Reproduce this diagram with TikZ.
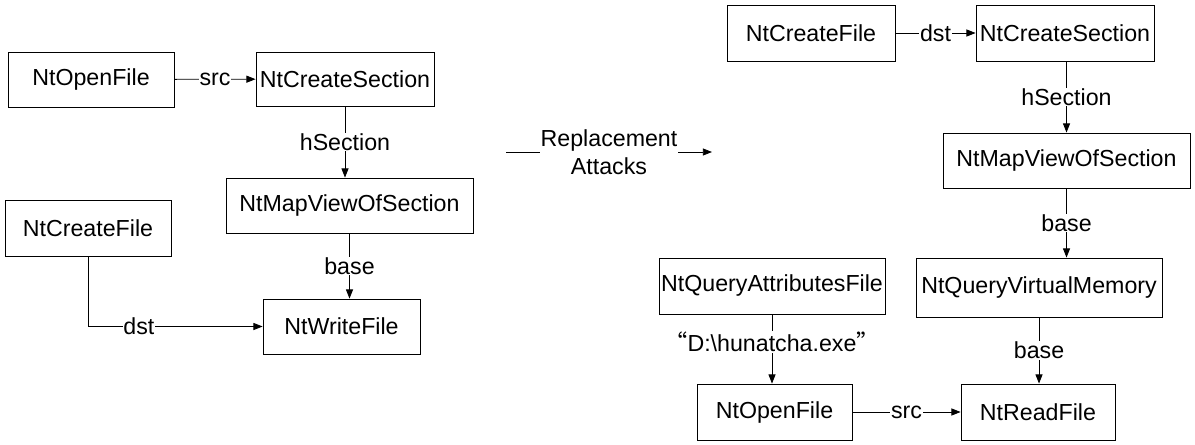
\documentclass[tikz,border=0pt]{standalone}
\usepackage{fontspec}
\setmainfont{Liberation Sans}
\newfontfamily\cjk{Noto Sans CJK SC}
\usetikzlibrary{arrows.meta}

\begin{document}
\begin{tikzpicture}[x=0.025cm,y=-0.025cm,
  every node/.style={font=\fontsize{16.5}{19.8}\selectfont},
  fn/.style={draw,line width=0.6pt,minimum height=1.4cm,inner sep=0pt},
  lbl/.style={fill=white,inner sep=0.6pt},
  flow/.style={line width=0.6pt,-{Triangle[length=6.5pt,width=5pt]}}]
\useasboundingbox (0,0) rectangle (1195,445);
% left: original call sequence
\node [fn,minimum width=4.15cm,minimum height=1.375cm] (lOpen) at (91,79.5) {NtOpenFile};
\node [fn,minimum width=4.45cm,minimum height=1.35cm] (lSection) at (345,79) {NtCreateSection};
\node [fn,minimum width=6.175cm,minimum height=1.375cm] (lMap) at (349.5,205.5) {NtMapViewOfSection};
\node [fn,minimum width=4.15cm] (lCreate) at (88,228) {NtCreateFile};
\node [fn,minimum width=3.925cm,minimum height=1.375cm] (lWrite) at (341.5,326.5) {NtWriteFile};
\draw [flow] (lOpen) -- node [lbl] {src} (lSection);
\draw [flow] (lSection) -- node [lbl] {hSection} (lSection |- lMap.north);
\draw [flow] (lMap) -- node [lbl] {base} (lMap |- lWrite.north);
\draw [flow] (lCreate) |- node [lbl,pos=0.646] {dst} (lWrite);
% middle
\coordinate (rpA) at (506,152);
\coordinate (rpB) at (712,152);
\draw [flow] (rpA) -- node [lbl,align=center] {Replacement\\Attacks} (rpB);
% right: after replacement
\node [fn,minimum width=4.2cm] (rCreate) at (811,33) {NtCreateFile};
\node [fn,minimum width=4.45cm] (rSection) at (1065,33) {NtCreateSection};
\node [fn,minimum width=6.175cm,minimum height=1.375cm] (rMap) at (1066.5,160.5) {NtMapViewOfSection};
\node [fn,minimum width=6.15cm,minimum height=1.475cm] (rQuery) at (1039,287.5) {NtQueryVirtualMemory};
\node [fn,minimum width=5.65cm] (rAttr) at (772,286) {NtQueryAttributesFile};
\node [fn,minimum width=3.875cm] (rOpen) at (774.5,412) {NtOpenFile};
\node [fn,minimum width=3.85cm] (rRead) at (1038,412) {NtReadFile};
\draw [flow] (rCreate) -- node [lbl] {dst} (rSection);
\draw [flow] (rMap |- rSection.south) -- node [lbl] {hSection} (rMap);
\draw [flow] (rMap) -- node [lbl] {base} (rMap |- rQuery.north);
\draw [flow] (rQuery) -- node [lbl] {base} (rQuery |- rRead.north);
\draw [flow] (rAttr) -- node [lbl,pos=0.4] {{\cjk “}D:\textbackslash hunatcha.exe{\cjk ”}} (rAttr |- rOpen.north);
\draw [flow] (rOpen) -- node [lbl] {src} (rRead);
\end{tikzpicture}
\end{document}
